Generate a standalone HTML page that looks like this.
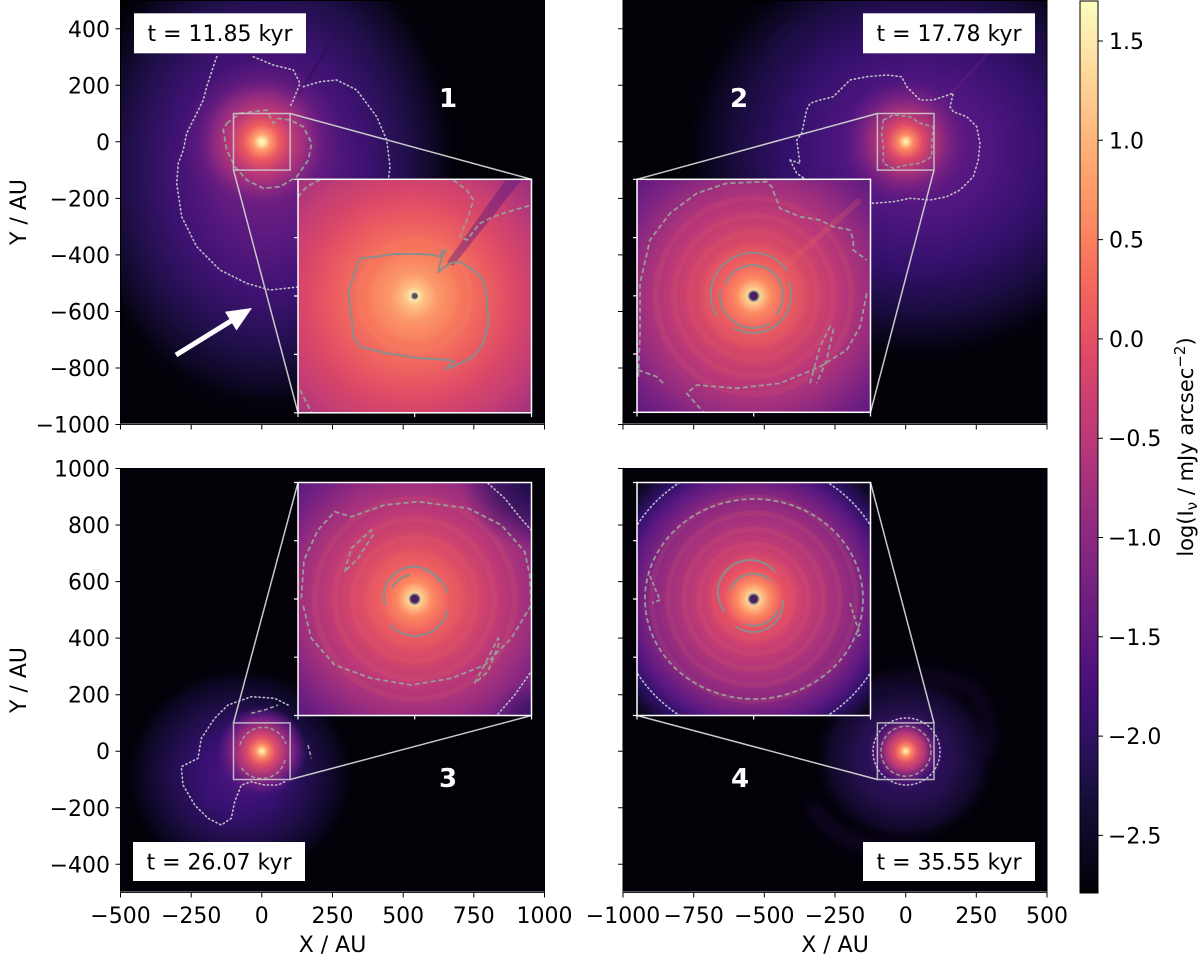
<!DOCTYPE html>
<html><head><meta charset="utf-8"><style>
html,body{margin:0;padding:0;background:#fff;}
svg{display:block;font-family:"DejaVu Sans","Liberation Sans",sans-serif;}
</style></head><body>
<svg width="1200" height="956" viewBox="0 0 1200 956" xmlns="http://www.w3.org/2000/svg">
<defs>
<clipPath id="c1"><rect x="120.5" y="0.5" width="424" height="424"/></clipPath>
<clipPath id="c2"><rect x="623" y="0.5" width="424" height="424"/></clipPath>
<clipPath id="c3"><rect x="120.5" y="468.5" width="424" height="424"/></clipPath>
<clipPath id="c4"><rect x="623" y="468.5" width="424" height="424"/></clipPath>
<clipPath id="i1"><rect x="298" y="179.3" width="233.5" height="233.5"/></clipPath>
<clipPath id="i2"><rect x="637" y="179.3" width="233.5" height="233"/></clipPath>
<clipPath id="i3"><rect x="298" y="482.5" width="233.5" height="233"/></clipPath>
<clipPath id="i4"><rect x="637" y="482.5" width="233.5" height="233"/></clipPath>
<filter id="bl" x="-20%" y="-20%" width="140%" height="140%"><feGaussianBlur stdDeviation="6"/></filter>

<radialGradient id="h1"><stop offset="0" stop-color="#7a2282"/><stop offset="0.25" stop-color="#5e1a80"/><stop offset="0.5" stop-color="#3e1272"/><stop offset="0.7" stop-color="#22104e"/><stop offset="0.88" stop-color="#0c0620"/><stop offset="1" stop-color="#000004" stop-opacity="0"/></radialGradient>
<radialGradient id="h2"><stop offset="0" stop-color="#6a1c81"/><stop offset="0.3" stop-color="#501680"/><stop offset="0.55" stop-color="#32106a"/><stop offset="0.75" stop-color="#1a0c40"/><stop offset="0.9" stop-color="#080418"/><stop offset="1" stop-color="#000004" stop-opacity="0"/></radialGradient>
<radialGradient id="h3"><stop offset="0" stop-color="#4e1680"/><stop offset="0.35" stop-color="#361070"/><stop offset="0.6" stop-color="#200e4a"/><stop offset="0.85" stop-color="#0a0620"/><stop offset="1" stop-color="#000004" stop-opacity="0"/></radialGradient>
<radialGradient id="h4"><stop offset="0" stop-color="#3a1270"/><stop offset="0.5" stop-color="#25104e"/><stop offset="0.8" stop-color="#100828"/><stop offset="1" stop-color="#000004" stop-opacity="0"/></radialGradient>

<radialGradient id="core1"><stop offset="0" stop-color="#fcfdbf"/><stop offset="0.04" stop-color="#fde7a9"/><stop offset="0.1" stop-color="#fe9f6d"/><stop offset="0.22" stop-color="#ed5a5f"/><stop offset="0.38" stop-color="#c03a76"/><stop offset="0.6" stop-color="#8c2981"/><stop offset="0.8" stop-color="#6a1c81" stop-opacity="0.5"/><stop offset="1" stop-color="#6a1c81" stop-opacity="0"/></radialGradient>
<radialGradient id="core2"><stop offset="0" stop-color="#fcfdbf"/><stop offset="0.05" stop-color="#fecf92"/><stop offset="0.12" stop-color="#fc8961"/><stop offset="0.28" stop-color="#de4968"/><stop offset="0.45" stop-color="#b03578"/><stop offset="0.7" stop-color="#7a2282"/><stop offset="1" stop-color="#6a1c81" stop-opacity="0"/></radialGradient>
<radialGradient id="core3"><stop offset="0" stop-color="#fcfdbf"/><stop offset="0.06" stop-color="#fecf92"/><stop offset="0.15" stop-color="#fc8961"/><stop offset="0.3" stop-color="#e05068"/><stop offset="0.5" stop-color="#b03578"/><stop offset="0.75" stop-color="#6a1c81"/><stop offset="1" stop-color="#5a1880" stop-opacity="0"/></radialGradient>
<radialGradient id="core4"><stop offset="0" stop-color="#fcfdbf"/><stop offset="0.06" stop-color="#fecf92"/><stop offset="0.15" stop-color="#fc8961"/><stop offset="0.3" stop-color="#e05068"/><stop offset="0.5" stop-color="#b03578"/><stop offset="0.8" stop-color="#5a1880" stop-opacity="0.6"/><stop offset="1" stop-color="#5a1880" stop-opacity="0"/></radialGradient>

<radialGradient id="g1" gradientUnits="userSpaceOnUse" cx="408" cy="302" r="190" fx="414.7" fy="296"><stop offset="0" stop-color="#fcfdbf"/><stop offset="0.02" stop-color="#fde7a9"/><stop offset="0.05" stop-color="#fec287"/><stop offset="0.12" stop-color="#fc9a6a"/><stop offset="0.25" stop-color="#f7785c"/><stop offset="0.4" stop-color="#ec5e60"/><stop offset="0.55" stop-color="#db4868"/><stop offset="0.7" stop-color="#c43d74"/><stop offset="0.85" stop-color="#a5327d"/><stop offset="1" stop-color="#8a2881"/></radialGradient>
<radialGradient id="g2" gradientUnits="userSpaceOnUse" cx="753.7" cy="296" r="175"><stop offset="0" stop-color="#fcfdbf"/><stop offset="0.02" stop-color="#fde7a9"/><stop offset="0.05" stop-color="#fec287"/><stop offset="0.1" stop-color="#fc8961"/><stop offset="0.2" stop-color="#ee5e60"/><stop offset="0.33" stop-color="#d44668"/><stop offset="0.5" stop-color="#bb3878"/><stop offset="0.65" stop-color="#9e2f7e"/><stop offset="0.8" stop-color="#7a2282"/><stop offset="0.92" stop-color="#621b80"/><stop offset="1" stop-color="#5a1a80"/></radialGradient>
<radialGradient id="g3" gradientUnits="userSpaceOnUse" cx="414.7" cy="599" r="175"><stop offset="0" stop-color="#fcfdbf"/><stop offset="0.02" stop-color="#fde7a9"/><stop offset="0.05" stop-color="#fec287"/><stop offset="0.1" stop-color="#fc8961"/><stop offset="0.2" stop-color="#ee5e60"/><stop offset="0.34" stop-color="#d64868"/><stop offset="0.5" stop-color="#bd3977"/><stop offset="0.66" stop-color="#9e2f7e"/><stop offset="0.8" stop-color="#7a2282"/><stop offset="0.93" stop-color="#5a1a80"/><stop offset="1" stop-color="#4a1580"/></radialGradient>
<radialGradient id="g4" gradientUnits="userSpaceOnUse" cx="753.7" cy="599" r="168"><stop offset="0" stop-color="#fcfdbf"/><stop offset="0.02" stop-color="#fde7a9"/><stop offset="0.05" stop-color="#fec287"/><stop offset="0.1" stop-color="#fc8961"/><stop offset="0.18" stop-color="#e85262"/><stop offset="0.3" stop-color="#c83e72"/><stop offset="0.48" stop-color="#a5317d"/><stop offset="0.62" stop-color="#862680"/><stop offset="0.74" stop-color="#5a1880"/><stop offset="0.83" stop-color="#30106a"/><stop offset="0.93" stop-color="#100826"/><stop offset="1" stop-color="#060312"/></radialGradient>
<radialGradient id="dk"><stop offset="0" stop-color="#1a0b40"/><stop offset="0.5" stop-color="#2a0f58" stop-opacity="0.7"/><stop offset="1" stop-color="#3a1270" stop-opacity="0"/></radialGradient>

<linearGradient id="cb" x1="0" y1="0" x2="0" y2="1"><stop offset="0" stop-color="#fcfdbf"/><stop offset="0.05" stop-color="#fde7a9"/><stop offset="0.1" stop-color="#fecf92"/><stop offset="0.15" stop-color="#feb77e"/><stop offset="0.2" stop-color="#fe9f6d"/><stop offset="0.25" stop-color="#fc8961"/><stop offset="0.3" stop-color="#f7705c"/><stop offset="0.35" stop-color="#ed5a5f"/><stop offset="0.4" stop-color="#de4968"/><stop offset="0.45" stop-color="#ca3e72"/><stop offset="0.5" stop-color="#b73779"/><stop offset="0.55" stop-color="#a1307e"/><stop offset="0.6" stop-color="#8c2981"/><stop offset="0.65" stop-color="#782281"/><stop offset="0.7" stop-color="#641a80"/><stop offset="0.75" stop-color="#51127c"/><stop offset="0.8" stop-color="#3b0f70"/><stop offset="0.85" stop-color="#251255"/><stop offset="0.9" stop-color="#140e36"/><stop offset="0.95" stop-color="#0a0822"/><stop offset="1" stop-color="#000004"/></linearGradient>
</defs>

<rect width="1200" height="956" fill="#fff"/>

<!-- ================= PANEL 1 ================= -->
<g clip-path="url(#c1)">
<rect x="120.5" y="0.5" width="424" height="424" fill="#020108"/>
<ellipse cx="268" cy="170" rx="195" ry="250" fill="url(#h1)"/>
<line x1="280" y1="124" x2="345" y2="20" stroke="#2a0f50" stroke-width="3" opacity="0.45"/>
<circle cx="261.8" cy="141.8" r="80" fill="url(#core1)"/>
<g fill="none" stroke="#bdbdc8" stroke-width="1.6" stroke-dasharray="1.2 3" stroke-linecap="round">
<path d="M216.7,56.7 L213.3,66.7 L206.7,86.7 L203.3,100 L186.7,133.3 L183.3,150 L178.3,163.3 L176.7,183.3 L181.7,216.7 L196.7,246.7 L220,270 L246.7,283.3 L270,290 L298,287"/>
<path d="M253.3,56.7 L273.3,65 L293.3,70 L300,83.3 L293.3,100 L290,106.7"/>
<path d="M303.3,86.7 L320,81.7 L336.7,80 L356.7,90 L376.7,116.7 L386.7,140 L390,166.7 L388.3,180"/>
</g>
<path d="M226.7,123.3 L240,113.3 L266.7,110 L273.3,123.3 L278.3,118.3 L290,120 L303.3,126.7 L311.7,143.3 L308.3,160 L296.7,176.7 L280,186.7 L263.3,188.3 L246.7,180 L235,166.7 L226.7,150 L223.3,130 Z" fill="none" stroke="#9a9a9a" stroke-width="1.8" stroke-dasharray="5 3"/>
<rect x="233.5" y="113.5" width="56.6" height="56.6" fill="none" stroke="#d0d0d0" stroke-width="1.5" opacity="0.85"/>
<line x1="290.1" y1="113.5" x2="531.5" y2="179.3" stroke="#c8c8c8" stroke-width="1.5"/>
<line x1="233.5" y1="170.1" x2="298" y2="412.8" stroke="#c8c8c8" stroke-width="1.5"/>
<line x1="176" y1="355" x2="233" y2="319.7" stroke="#fff" stroke-width="5"/>
<polygon points="252,308 236.5,330.5 225,311.8" fill="#fff"/>
</g>
<g clip-path="url(#i1)">
<rect x="298" y="179.3" width="233.5" height="233.5" fill="url(#g1)"/>
<g fill="none" stroke="#f7a070" stroke-width="5" opacity="0.1">
<circle cx="414.7" cy="296" r="25"/><circle cx="414.7" cy="296" r="40"/><circle cx="414.7" cy="296" r="56"/>
</g>
<polygon points="447,262 506,179.3 522,179.3 453,266" fill="#4a1580" opacity="0.4"/>
<path d="M353.3,276.7 L360,258.3 L376.7,256.7 L393.3,254 L420,254 L433.3,255 L440,256.7 L441.7,251.7 L445,250 L440,263.3 L438.3,271.7 L450,263.3 L460,261.7 L473.3,270 L483.3,280 L486.7,296.7 L488.3,323.3 L483.3,343.3 L473.3,356.7 L460,363.3 L453.3,366.7 L446.7,368.3 L453.3,361.7 L450,360 L420,358.3 L386.7,353.3 L360,346.7 L353.3,336.7 L351.7,316.7 L348.3,293.3 Z" fill="none" stroke="#8c8c8c" stroke-width="2"/>
<g fill="none" stroke="#9a9a9a" stroke-width="1.8" stroke-dasharray="5 3">
<path d="M453.3,180 L466.7,190 L473.3,200 L468.3,216.7 L460,236.7 L466.7,240 L480,223.3 L490,218.3 L503.3,213.3 L520,208.3 L532,205"/>
<path d="M298,197 L306.7,186.7 L320,180"/>
<path d="M300,390 L306.7,403 L311.7,413"/>
</g>
<circle cx="414.7" cy="296" r="3" fill="#555" stroke="#888" stroke-width="1"/>
</g>
<rect x="298" y="179.3" width="233.5" height="233.5" fill="none" stroke="#fff" stroke-width="1.5"/>
<path d="M294,179.3H298M294,237.7H298M294,296H298M294,354.4H298M294,412.8H298M298,412.8V417M414.7,412.8V417M531.5,412.8V417" stroke="#fff" stroke-width="1.2"/>
<rect x="134" y="13.3" width="172" height="40" fill="#fff"/>
<text x="220" y="41" font-size="22" text-anchor="middle">t = 11.85 kyr</text>
<text x="448" y="107" font-size="26" font-weight="bold" fill="#fff" text-anchor="middle">1</text>

<!-- ================= PANEL 2 ================= -->
<g clip-path="url(#c2)">
<rect x="623" y="0.5" width="424" height="424" fill="#020108"/>
<ellipse cx="918" cy="150" rx="240" ry="215" fill="url(#h2)"/>
<line x1="920" y1="128" x2="1000" y2="40" stroke="#7a2282" stroke-width="3" opacity="0.3"/>
<circle cx="905.7" cy="141.8" r="62" fill="url(#core2)"/>
<path d="M790,160 L800,163.3 L796.7,140 L801.7,133.3 L806.7,110 L810,103.3 L820,100 L833.3,96.7 L850,80 L866.7,76.7 L886.7,75 L901.7,76.7 L906.7,86.7 L913.3,93.3 L920,100 L933.3,100 L953.3,93.3 L950,106.7 L953.3,111.7 L966.7,116.7 L976.7,126.7 L980,143.3 L978.3,160 L973.3,176.7 L960,190 L946.7,196.7 L930,200 L910,198.3 L893.3,201.7 L873.3,203.3 L863.3,198.3 L853.3,193.3 L820,186.7 L806.7,180 L796.7,173.3 Z" fill="none" stroke="#bdbdc8" stroke-width="1.6" stroke-dasharray="1.2 3" stroke-linecap="round"/>
<path d="M883.3,120 L893.3,115 L910,116.7 L920,123.3 L933.3,126.7 L931.7,143.3 L931.7,156.7 L920,163.3 L906.7,165 L893.3,168.3 L883.3,163.3 L883.3,146.7 L881.7,133.3 Z" fill="none" stroke="#9a9a9a" stroke-width="1.6" stroke-dasharray="4 2.5"/>
<rect x="877.4" y="113.5" width="56.6" height="56.6" fill="none" stroke="#d0d0d0" stroke-width="1.5" opacity="0.85"/>
<line x1="877.4" y1="113.5" x2="637" y2="179.3" stroke="#c8c8c8" stroke-width="1.5"/>
<line x1="934" y1="170.1" x2="870.5" y2="412.3" stroke="#c8c8c8" stroke-width="1.5"/>
</g>
<g clip-path="url(#i2)">
<rect x="637" y="179.3" width="233.5" height="233" fill="url(#g2)"/>
<g fill="none" stroke="#f27a60" stroke-width="6" opacity="0.1">
<circle cx="753.7" cy="296" r="48"/><circle cx="753.7" cy="296" r="64"/><circle cx="753.7" cy="296" r="80"/><circle cx="753.7" cy="296" r="98"/>
</g>
<line x1="770" y1="280" x2="860" y2="200" stroke="#f07060" stroke-width="6" opacity="0.2"/>
<g fill="none" stroke="#9a9a9a" stroke-width="1.8" stroke-dasharray="5 3">
<path d="M638.3,376.7 L640,333.3 L640,283.3 L650,240 L670,213.3 L696.7,193.3 L726.7,183.3 L766.7,181.7 L771.7,186.7 L776.7,200 L780,208.3 L800,216.7 L820,220 L833.3,226.7 L850,230 L853.3,240 L853.3,250 L866.7,260"/>
<path d="M866.7,293.3 L860,326.7 L846.7,350 L820,366.7 L780,383.3 L736.7,388.3 L696.7,385 L686.7,393.3 L703.3,412"/>
<path d="M810,383.3 L820,346.7 L830,326.7 L833.3,330 L826.7,360 L816.7,383.3"/>
<path d="M638,370 L656.7,376.7 L663.3,383.3"/>
</g>
<g fill="none" stroke="#8c8c8c" stroke-width="2">
<path d="M716.6,316 A42,42 0 0 1 787.4,270.9"/>
<path d="M788.7,282 A38,38 0 0 1 734,327.9"/>
<path d="M724.8,284.7 A30,30 0 1 1 776,314.3"/>
<path d="M769.5,323.6 A33,33 0 0 1 720.5,289.3"/>
</g>
<circle cx="753.7" cy="296" r="5" fill="#4a2060" stroke="#8c8c8c" stroke-width="1.5"/>
</g>
<rect x="637" y="179.3" width="233.5" height="233" fill="none" stroke="#fff" stroke-width="1.5"/>
<path d="M633,179.3H637M633,237.6H637M633,295.8H637M633,354H637M633,412.3H637M637,412.3V416.5M753.7,412.3V416.5M870.5,412.3V416.5" stroke="#fff" stroke-width="1.2"/>
<rect x="863" y="13.3" width="172" height="40" fill="#fff"/>
<text x="949" y="41" font-size="22" text-anchor="middle">t = 17.78 kyr</text>
<text x="739" y="107" font-size="26" font-weight="bold" fill="#fff" text-anchor="middle">2</text>

<!-- ================= PANEL 3 ================= -->
<g clip-path="url(#c3)">
<rect x="120.5" y="468.5" width="424" height="424" fill="#020108"/>
<ellipse cx="240" cy="775" rx="118" ry="112" fill="url(#h3)"/>
<circle cx="261.8" cy="751.2" r="45" fill="url(#core3)"/>
<g fill="none" stroke="#bdbdc8" stroke-width="1.6" stroke-dasharray="1.2 3" stroke-linecap="round">
<path d="M288,705 L274.7,698.3 L251.3,696.7 L228,705 L214.7,718.3 L201.3,738.3 L198,758.3 L181.3,766.7 L183,785 L194.7,805 L208,818.3 L221.3,825 L231.3,818.3 L234.7,801.7 L241.3,785 L251.3,781.7 L264.7,785 L278,785 L284.7,781.7"/>
</g>
<g fill="none" stroke="#9a9a9a" stroke-width="1.6" stroke-dasharray="4 2.5">
<path d="M240,745 A24,24 0 0 1 286,744"/>
<path d="M285,760 A24,24 0 0 1 240,765"/>
<path d="M251.3,713.3 L264.7,710 L278,705"/>
<path d="M308,745 L311.3,758.3"/>
</g>
<rect x="233.5" y="722.9" width="56.6" height="56.6" fill="none" stroke="#d0d0d0" stroke-width="1.5" opacity="0.85"/>
<line x1="233.5" y1="722.9" x2="298" y2="482.5" stroke="#c8c8c8" stroke-width="1.5"/>
<line x1="290.1" y1="779.5" x2="531.5" y2="715.5" stroke="#c8c8c8" stroke-width="1.5"/>
</g>
<g clip-path="url(#i3)">
<rect x="298" y="482.5" width="233.5" height="233" fill="url(#g3)"/>
<g fill="none" stroke="#f27a60" stroke-width="6" opacity="0.1">
<circle cx="414.7" cy="599" r="45"/><circle cx="414.7" cy="599" r="62"/><circle cx="414.7" cy="599" r="80"/><circle cx="414.7" cy="599" r="100"/>
</g>
<ellipse cx="535" cy="480" rx="75" ry="70" fill="url(#dk)"/>
<ellipse cx="535" cy="720" rx="45" ry="40" fill="url(#dk)" opacity="0.6"/>
<g fill="none" stroke="#9a9a9a" stroke-width="1.8" stroke-dasharray="5 3">
<path d="M301.3,598.3 L304,560 L318,530 L334.7,511.7 L351.3,516.7 L384.7,505 L418,501.7 L468,508.3 L501.3,525 L524.7,551.7 L529.7,575 L531.3,605 L511.3,638.3 L484.7,665 L451.3,678.3 L411.3,685 L371.3,678.3 L334.7,665 L311.3,638.3 L303,605"/>
<path d="M344.7,571.7 L351.3,548.3 L371.3,530 L373,535 L358,558.3 Z"/>
<path d="M474.7,683.3 L491.3,651.7 L498,638.3 L499.7,641.7 L488,671.7 Z"/>
</g>
<g fill="none" stroke="#bdbdc8" stroke-width="1.6" stroke-dasharray="1.2 3" stroke-linecap="round">
<path d="M488,483.3 L504.7,498.3 L518,515 L531,530"/>
<path d="M498,714 L514.7,695 L531,671.7"/>
</g>
<g fill="none" stroke="#8c8c8c" stroke-width="2">
<path d="M385,605 A30,30 0 0 1 440,582"/>
<path d="M448,610 A34,34 0 0 1 390,625"/>
<path d="M425,570 A32,32 0 0 1 447,593"/>
<path d="M392,588 A24,24 0 0 1 410,575"/>
</g>
<circle cx="414.7" cy="599" r="5" fill="#4a2060" stroke="#8c8c8c" stroke-width="1.5"/>
</g>
<rect x="298" y="482.5" width="233.5" height="233" fill="none" stroke="#fff" stroke-width="1.5"/>
<path d="M294,482.5H298M294,540.7H298M294,599H298M294,657.2H298M294,715.5H298M298,715.5V719.5M414.7,715.5V719.5M531.5,715.5V719.5" stroke="#fff" stroke-width="1.2"/>
<rect x="133" y="842" width="172" height="39" fill="#fff"/>
<text x="219" y="869.5" font-size="22" text-anchor="middle">t = 26.07 kyr</text>
<text x="448" y="787" font-size="26" font-weight="bold" fill="#fff" text-anchor="middle">3</text>

<!-- ================= PANEL 4 ================= -->
<g clip-path="url(#c4)">
<rect x="623" y="468.5" width="424" height="424" fill="#020108"/>
<ellipse cx="905" cy="758" rx="95" ry="90" fill="url(#h4)"/>
<g fill="none" stroke="#3a1270" opacity="0.3" filter="url(#bl)">
<path d="M850,700 Q905,655 975,690 Q995,720 988,755" stroke-width="10"/>
<path d="M810,805 Q850,860 925,848" stroke-width="12"/>
</g>
<circle cx="905.7" cy="751.2" r="38" fill="url(#core4)"/>
<circle cx="906.5" cy="751.5" r="33.5" fill="none" stroke="#bdbdc8" stroke-width="1.5" stroke-dasharray="1.2 3" stroke-linecap="round"/>
<circle cx="906" cy="751.2" r="25" fill="none" stroke="#9a9a9a" stroke-width="1.5" stroke-dasharray="4 2.5"/>
<rect x="877.4" y="722.9" width="56.6" height="56.6" fill="none" stroke="#d0d0d0" stroke-width="1.5" opacity="0.85"/>
<line x1="934" y1="722.9" x2="870.5" y2="482.5" stroke="#c8c8c8" stroke-width="1.5"/>
<line x1="877.4" y1="779.5" x2="637" y2="715.5" stroke="#c8c8c8" stroke-width="1.5"/>
</g>
<g clip-path="url(#i4)">
<rect x="637" y="482.5" width="233.5" height="233" fill="url(#g4)"/>
<g fill="none" stroke="#f27a60" stroke-width="5" opacity="0.1">
<circle cx="753.7" cy="599" r="40"/><circle cx="753.7" cy="599" r="55"/><circle cx="753.7" cy="599" r="70"/><circle cx="753.7" cy="599" r="86"/><circle cx="753.7" cy="599" r="102"/>
</g>
<ellipse cx="754" cy="599" rx="109" ry="100" fill="none" stroke="#9a9a9a" stroke-width="1.8" stroke-dasharray="5 3"/>
<g fill="none" stroke="#9a9a9a" stroke-width="1.8" stroke-dasharray="4 2.5">
<path d="M650,576 L660,600 L652,603"/>
<path d="M850,603 L860,635 L855,637"/>
</g>
<circle cx="753.7" cy="599" r="138" fill="none" stroke="#bdbdc8" stroke-width="1.6" stroke-dasharray="1.2 3" stroke-linecap="round"/>
<g fill="none" stroke="#8c8c8c" stroke-width="2">
<path d="M725,612 A31,31 0 0 1 775,572"/>
<path d="M783,600 A30,30 0 0 1 735,626"/>
<path d="M730,590 A25,25 0 0 1 770,580"/>
<path d="M778,610 A26,26 0 0 1 745,624"/>
</g>
<circle cx="753.7" cy="599" r="5" fill="#4a2060" stroke="#8c8c8c" stroke-width="1.5"/>
</g>
<rect x="637" y="482.5" width="233.5" height="233" fill="none" stroke="#fff" stroke-width="1.5"/>
<path d="M633,482.5H637M633,540.7H637M633,599H637M633,657.2H637M633,715.5H637M637,715.5V719.5M753.7,715.5V719.5M870.5,715.5V719.5" stroke="#fff" stroke-width="1.2"/>
<rect x="863" y="842" width="172" height="39" fill="#fff"/>
<text x="949" y="869.5" font-size="22" text-anchor="middle">t = 35.55 kyr</text>
<text x="740" y="787" font-size="26" font-weight="bold" fill="#fff" text-anchor="middle">4</text>

<!-- ================= AXES frames ================= -->
<g fill="none" stroke="#000" stroke-width="1">
<rect x="120.5" y="0.5" width="424" height="424"/>
<rect x="623" y="0.5" width="424" height="424"/>
<rect x="120.5" y="468.5" width="424" height="424"/>
<rect x="623" y="468.5" width="424" height="424"/>
</g>
<g stroke="#777" stroke-width="1">
<line x1="120.5" y1="423.8" x2="544.5" y2="423.8"/>
<line x1="623" y1="423.8" x2="1047" y2="423.8"/>
<line x1="120.5" y1="891.8" x2="544.5" y2="891.8"/>
<line x1="623" y1="891.8" x2="1047" y2="891.8"/>
</g>
<g stroke="#000" stroke-width="1">
<path d="M115.5,28.8H120.5M115.5,85.3H120.5M115.5,141.8H120.5M115.5,198.4H120.5M115.5,254.9H120.5M115.5,311.5H120.5M115.5,368H120.5M115.5,424.5H120.5"/>
<path d="M618,28.8H623M618,85.3H623M618,141.8H623M618,198.4H623M618,254.9H623M618,311.5H623M618,368H623M618,424.5H623"/>
<path d="M115.5,468.5H120.5M115.5,525H120.5M115.5,581.6H120.5M115.5,638.1H120.5M115.5,694.7H120.5M115.5,751.2H120.5M115.5,807.8H120.5M115.5,864.3H120.5"/>
<path d="M618,468.5H623M618,525H623M618,581.6H623M618,638.1H623M618,694.7H623M618,751.2H623M618,807.8H623M618,864.3H623"/>
<path d="M120.5,424.5V429.5M191.2,424.5V429.5M261.8,424.5V429.5M332.5,424.5V429.5M403.2,424.5V429.5M473.8,424.5V429.5M544.5,424.5V429.5"/>
<path d="M623,424.5V429.5M693.7,424.5V429.5M764.3,424.5V429.5M835,424.5V429.5M905.7,424.5V429.5M976.3,424.5V429.5M1047,424.5V429.5"/>
<path d="M120.5,892.5V897.5M191.2,892.5V897.5M261.8,892.5V897.5M332.5,892.5V897.5M403.2,892.5V897.5M473.8,892.5V897.5M544.5,892.5V897.5"/>
<path d="M623,892.5V897.5M693.7,892.5V897.5M764.3,892.5V897.5M835,892.5V897.5M905.7,892.5V897.5M976.3,892.5V897.5M1047,892.5V897.5"/>
</g>
<g font-size="22" text-anchor="end" fill="#000">
<text x="110" y="36.8">400</text>
<text x="110" y="93.3">200</text>
<text x="110" y="149.8">0</text>
<text x="110" y="206.4">−200</text>
<text x="110" y="262.9">−400</text>
<text x="110" y="319.5">−600</text>
<text x="110" y="376">−800</text>
<text x="110" y="432.5">−1000</text>
<text x="110" y="476.5">1000</text>
<text x="110" y="533">800</text>
<text x="110" y="589.6">600</text>
<text x="110" y="646.1">400</text>
<text x="110" y="702.7">200</text>
<text x="110" y="759.2">0</text>
<text x="110" y="815.8">−200</text>
<text x="110" y="872.3">−400</text>
</g>
<g font-size="22" text-anchor="middle" fill="#000">
<text x="120.5" y="923">−500</text>
<text x="191.2" y="923">−250</text>
<text x="261.8" y="923">0</text>
<text x="332.5" y="923">250</text>
<text x="403.2" y="923">500</text>
<text x="473.8" y="923">750</text>
<text x="544.5" y="923">1000</text>
<text x="623" y="923">−1000</text>
<text x="693.7" y="923">−750</text>
<text x="764.3" y="923">−500</text>
<text x="835" y="923">−250</text>
<text x="905.7" y="923">0</text>
<text x="976.3" y="923">250</text>
<text x="1047" y="923">500</text>
</g>
<g font-size="22" text-anchor="middle" fill="#000">
<text x="332.5" y="952">X / AU</text>
<text x="835" y="952">X / AU</text>
<text transform="translate(26,212) rotate(-90)">Y / AU</text>
<text transform="translate(26,680) rotate(-90)">Y / AU</text>
</g>

<!-- ================= COLORBAR ================= -->
<rect x="1080" y="1" width="18" height="892" fill="url(#cb)" stroke="#000" stroke-width="1"/>
<path d="M1098,41H1103M1098,140.3H1103M1098,239.6H1103M1098,338.9H1103M1098,438.2H1103M1098,537.5H1103M1098,636.8H1103M1098,736.1H1103M1098,835.4H1103" stroke="#000" stroke-width="1"/>
<g font-size="22" fill="#000">
<text x="1109" y="49">1.5</text>
<text x="1109" y="148.3">1.0</text>
<text x="1109" y="247.6">0.5</text>
<text x="1109" y="346.9">0.0</text>
<text x="1108" y="446.2">−0.5</text>
<text x="1108" y="545.5">−1.0</text>
<text x="1108" y="644.8">−1.5</text>
<text x="1108" y="744.1">−2.0</text>
<text x="1108" y="843.4">−2.5</text>
</g>
<text transform="translate(1193,447) rotate(-90)" font-size="21" text-anchor="middle" fill="#000">log(I<tspan font-size="15" dy="4">ν</tspan><tspan dy="-4"> / mJy arcsec</tspan><tspan font-size="15" dy="-8">−2</tspan><tspan dy="8">)</tspan></text>
</svg>
</body></html>
